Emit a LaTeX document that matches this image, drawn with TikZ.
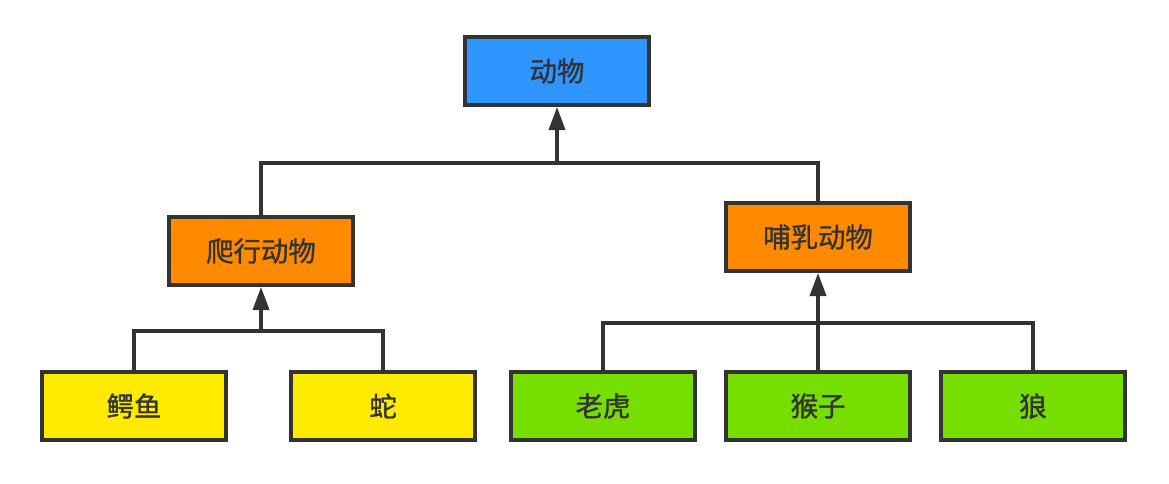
\documentclass[tikz,border=0pt]{standalone}
\usepackage{fontspec}
\newfontfamily\cjk[AutoFakeBold=1.2]{Noto Sans CJK SC}
\usetikzlibrary{arrows.meta}

\definecolor{boxblue}{HTML}{2F95FF}
\definecolor{boxorange}{HTML}{FF8A00}
\definecolor{boxyellow}{HTML}{FFEA00}
\definecolor{boxgreen}{HTML}{77DF00}
\definecolor{ink}{HTML}{333333}

\begin{document}
\begin{tikzpicture}[x=0.025cm,y=-0.025cm,
  box/.style={draw=ink,line width=2.6pt,minimum width=4.6cm,minimum height=1.7cm,
    inner sep=0pt,text=ink,font=\cjk\bfseries\fontsize{19.5pt}{22pt}\selectfont},
  link/.style={draw=ink,line width=2.6pt},
  up/.style={link,-{Triangle[width=0.4cm,length=0.58cm]}}]
  \useasboundingbox[fill=white] (0,0) rectangle (1169,483);
  % top
  \node[box,fill=boxblue]   (animal) at (557,71)  {动物};
  % second row
  \node[box,fill=boxorange] (reptile) at (261,251) {爬行动物};
  \node[box,fill=boxorange] (mammal)  at (818,237) {哺乳动物};
  % leaves
  \node[box,fill=boxyellow] (croc)   at (134,406) {鳄鱼};
  \node[box,fill=boxyellow] (snake)  at (383,406) {蛇};
  \node[box,fill=boxgreen]  (tiger)  at (603,406) {老虎};
  \node[box,fill=boxgreen]  (monkey) at (818,406) {猴子};
  \node[box,fill=boxgreen]  (wolf)   at (1033,406) {狼};
  % junctions
  \coordinate (jtop) at (557,163);
  \coordinate (jrep) at (261,331);
  \coordinate (jmam) at (818,323);
  % connectors
  \draw[link] (reptile.north) |- (jtop) -| (mammal.north);
  \draw[up] (jtop) -- (animal.south);
  \draw[link] (croc.north) |- (jrep) -| (snake.north);
  \draw[up] (jrep) -- (reptile.south);
  \draw[link] (tiger.north) |- (jmam) -| (wolf.north);
  \draw[up] (monkey.north) -- (mammal.south);
\end{tikzpicture}
\end{document}
